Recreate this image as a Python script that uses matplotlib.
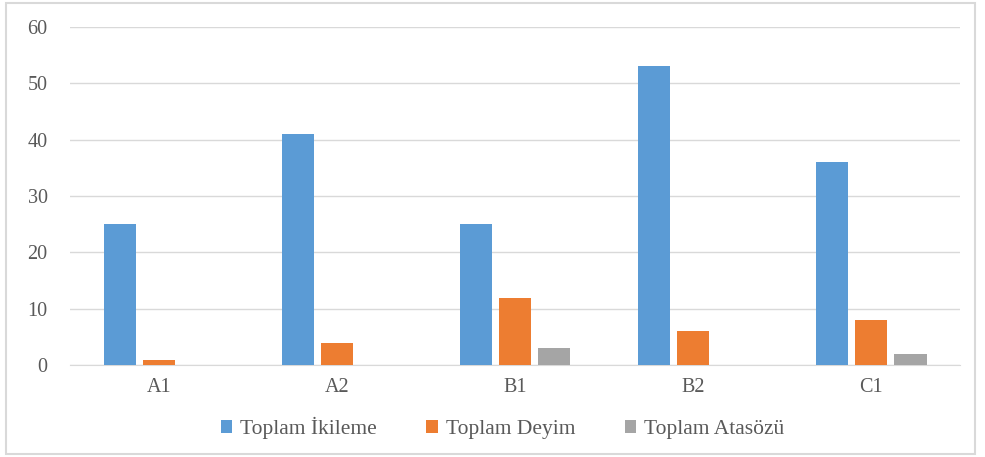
import matplotlib.pyplot as plt
from matplotlib.patches import Rectangle
import numpy as np

plt.rcParams['font.family'] = ['Liberation Serif', 'DejaVu Serif']

categories = ["A1", "A2", "B1", "B2", "C1"]
ikileme = [25, 41, 25, 53, 36]
deyim = [1, 4, 12, 6, 8]
atasozu = [0, 0, 3, 0, 2]
series_names = ["Toplam İkileme", "Toplam Deyim", "Toplam Atasözü"]
series_colors = ["#5b9bd5", "#ed7d31", "#a5a5a5"]

fig = plt.figure(figsize=(9.85, 4.57), dpi=100)
ax = fig.add_axes([0.071, 0.201, 0.904, 0.740])

x = np.arange(len(categories))
width = 0.18
step = 0.22
for i, (vals, name, col) in enumerate(zip([ikileme, deyim, atasozu], series_names, series_colors)):
    ax.bar(x + (i - 1) * step, vals, width, color=col, label=name, zorder=3)

ax.set_xlim(-0.5, len(categories) - 0.5)
ax.set_ylim(0, 60)
ax.set_yticks(range(0, 61, 10))
ax.set_xticks(x)
ax.set_xticklabels(categories)
ax.grid(axis="y", color="#d9d9d9", linewidth=1, zorder=0)
for s in ["top", "right", "left"]:
    ax.spines[s].set_visible(False)
ax.spines["bottom"].set_color("#d9d9d9")
ax.tick_params(length=0, colors="#595959", labelsize=14.5)
ax.tick_params(axis="y", pad=16)
ax.tick_params(axis="x", pad=9)

leg = fig.legend(loc="center", bbox_to_anchor=(0.51, 0.063), ncol=3, frameon=False,
                 fontsize=15.5, handlelength=0.55, handleheight=0.55, handletextpad=0.35,
                 columnspacing=2.3)
for t in leg.get_texts():
    t.set_color("#595959")

fig.patches.append(Rectangle((0.006, 0.006), 0.984, 0.988, transform=fig.transFigure,
                             fill=False, edgecolor="#d9d9d9", linewidth=1.5))

fig.savefig("out.png", dpi=100)
